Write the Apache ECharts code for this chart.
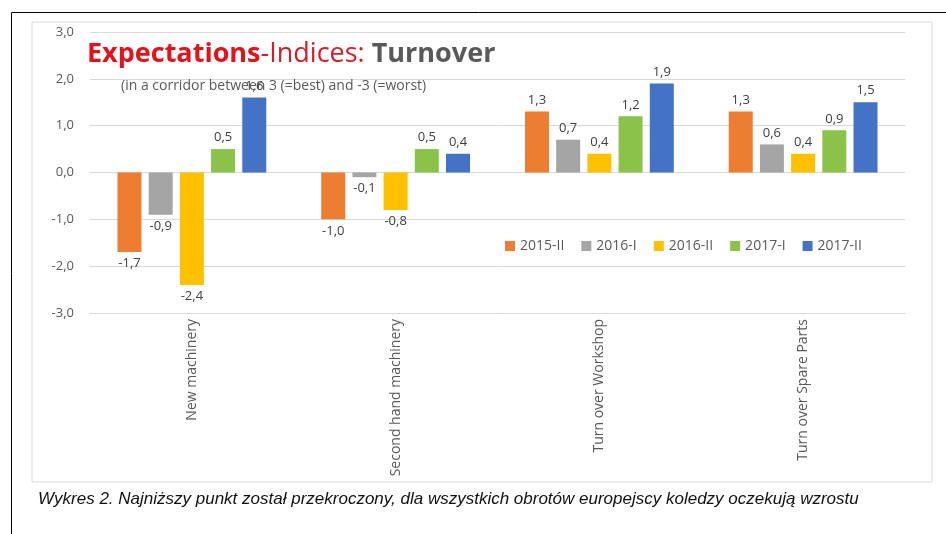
<!DOCTYPE html>
<html>
<head>
<meta charset="utf-8">
<script src="https://cdn.jsdelivr.net/npm/echarts@6/dist/echarts.min.js"></script>
<style>
  html, body { margin: 0; padding: 0; background: #fff; }
  #main { width: 946px; height: 534px; }
</style>
</head>
<body>
<div id="main"></div>
<script>
var categories = ['New machinery', 'Second hand machinery', 'Turn over Workshop', 'Turn over Spare Parts']
var seriesNames = ['2015-II', '2016-I', '2016-II', '2017-I', '2017-II']
var s2015II = [-1.7, -1.0, 1.3, 1.3]
var s2016I = [-0.9, -0.1, 0.7, 0.6]
var s2016II = [-2.4, -0.8, 0.4, 0.4]
var s2017I = [0.5, 0.5, 1.2, 0.9]
var s2017II = [1.6, 0.4, 1.9, 1.5]
var colors = ['#ed7d31', '#a5a5a5', '#ffc000', '#8bc34a', '#4472c4']

var font = 'Open Sans, Noto Sans, sans-serif'
function fmt (v) { return v.toFixed(1).replace('.', ',') }

var myChart = echarts.init(document.getElementById('main'))
var allData = [s2015II, s2016I, s2016II, s2017I, s2017II]
var series = allData.map(function (d, i) {
  return {
    name: seriesNames[i],
    type: 'bar',
    // negative values get their label below the bar
    data: d.map(function (v) {
      return v < 0 ? { value: v, label: { position: 'bottom' } } : v
    }),
    barWidth: 24,
    barGap: '30%',
    itemStyle: { color: colors[i] },
    label: {
      show: true,
      fontFamily: font,
      fontSize: 13,
      color: '#404040',
      formatter: function (p) { return fmt(p.value) },
      position: 'top'
    }
  }
})

var option = {
  animation: false,
  color: colors,
  title: [
    {
      text: '{a|Expectations}{b|-Indices: }{c|Turnover}',
      left: 82, top: 36,
      textStyle: {
        fontWeight: 'normal',
        rich: {
          a: { fontFamily: font, fontSize: 27, fontWeight: 'bold', color: '#e3121b' },
          b: { fontFamily: font, fontSize: 27, fontWeight: 'normal', color: '#d1202a' },
          c: { fontFamily: font, fontSize: 27, fontWeight: 'bold', color: '#595959' }
        }
      }
    },
    {
      text: '(in a corridor between 3 (=best) and -3 (=worst)',
      left: 116, top: 74,
      textStyle: { fontFamily: font, fontSize: 14, fontWeight: 'normal', color: '#595959' }
    },
    {
      text: 'Wykres 2. Najniższy punkt został przekroczony, dla wszystkich obrotów europejscy koledzy oczekują wzrostu',
      left: 33, top: 486,
      textStyle: { fontFamily: 'Liberation Sans, sans-serif', fontSize: 17, fontStyle: 'italic', fontWeight: 'normal', color: '#111' }
    }
  ],
  legend: {
    data: seriesNames,
    left: 500, top: 234,
    icon: 'rect', itemWidth: 10, itemHeight: 10, itemGap: 17,
    textStyle: { fontFamily: font, fontSize: 14, color: '#595959' }
  },
  grid: { left: 90, right: 41, top: 32, bottom: 221 },
  xAxis: {
    type: 'category',
    data: categories,
    axisLine: { onZero: false, lineStyle: { color: '#d9d9d9' } },
    axisTick: { show: false },
    axisLabel: { rotate: 90, interval: 0, fontFamily: font, fontSize: 14, color: '#595959', margin: 6 }
  },
  yAxis: {
    type: 'value',
    min: -3, max: 3, interval: 1,
    axisLine: { show: false },
    axisTick: { show: false },
    splitLine: { lineStyle: { color: '#d9d9d9' } },
    axisLabel: { fontFamily: font, fontSize: 13, color: '#595959', margin: 16, formatter: fmt }
  },
  graphic: [
    { type: 'rect', shape: { x: 32, y: 22, width: 900, height: 460 }, style: { fill: 'none', stroke: '#d9d9d9', lineWidth: 1 }, z: -1 },
    { type: 'polyline', shape: { points: [[11.5, 534], [11.5, 12.5], [946, 12.5]] }, style: { fill: 'none', stroke: '#000', lineWidth: 1 } }
  ],
  series: series
}
myChart.setOption(option)
</script>
</body>
</html>
